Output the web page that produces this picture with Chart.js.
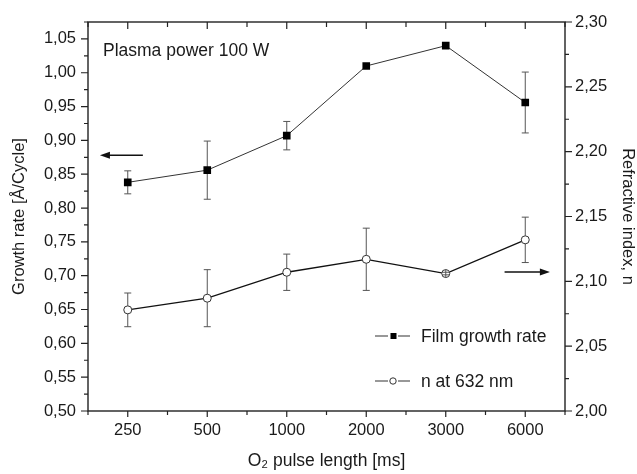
<!DOCTYPE html>
<html>
<head>
<meta charset="utf-8">
<script src="https://cdn.jsdelivr.net/npm/chart.js@4.4.1/dist/chart.umd.min.js"></script>
<style>
  html, body { margin: 0; padding: 0; background: #fff; }
  #wrap { width: 637px; height: 474px; }
</style>
</head>
<body>
<div id="wrap"><canvas id="chart" width="637" height="474"></canvas></div>
<script>
// ================= DATA =================
const pulseLengths = ["250", "500", "1000", "2000", "3000", "6000"];

const growthRate = [0.838, 0.856, 0.907, 1.010, 1.040, 0.956];
const growthErr  = [0.017, 0.043, 0.021, 0, 0, 0.045];

const refIndex = [2.078, 2.087, 2.107, 2.117, 2.106, 2.132];
const refErr   = [0.013, 0.022, 0.014, 0.024, 0.001, 0.0175];

const leftRange  = [0.5, 1.075];
const rightRange = [2.0, 2.30];

// arrows pointing at the axis each series belongs to (value on axis, x in category index units)
const arrowLeft  = { axis: "y",  value: 0.878,  from: 0.19, to: -0.35 };
const arrowRight = { axis: "y2", value: 2.1072, from: 4.74, to: 5.31 };

const noteText = "Plasma power 100 W";

// ================= HELPERS =================
const FONT = "'Liberation Sans', Arial, sans-serif";
const INK = "#1a1a1a";

function comma(v) { return v.toFixed(2).replace(".", ","); }
function isMajor(v) { return Math.round(v * 1000) % 50 === 0; }

// draws error bars; big ones go under the markers, tiny ones (hidden by the marker) on top
function drawErrors(chart, small) {
  const ctx = chart.ctx;
  ctx.save();
  ctx.strokeStyle = "#555";
  ctx.lineWidth = 1;
  chart.data.datasets.forEach((ds, i) => {
    const meta = chart.getDatasetMeta(i);
    const sc = chart.scales[ds.yAxisID];
    meta.data.forEach((pt, j) => {
      const e = ds.errors[j];
      if (!e) return;
      const yt = sc.getPixelForValue(ds.data[j] + e);
      const yb = sc.getPixelForValue(ds.data[j] - e);
      const isSmall = (yb - yt) / 2 < ds.pointRadius;
      if (isSmall !== small) return;
      const h = small ? ds.pointRadius : 0;
      ctx.beginPath();
      ctx.moveTo(pt.x, Math.min(yt, pt.y - h)); ctx.lineTo(pt.x, Math.max(yb, pt.y + h));
      ctx.moveTo(pt.x - 3.5, yt); ctx.lineTo(pt.x + 3.5, yt);
      ctx.moveTo(pt.x - 3.5, yb); ctx.lineTo(pt.x + 3.5, yb);
      ctx.stroke();
    });
  });
  ctx.restore();
}

// ================= PLUGINS =================
const errorBars = {
  id: "errorBars",
  beforeDatasetsDraw(chart) { drawErrors(chart, false); },
  afterDatasetsDraw(chart) { drawErrors(chart, true); }
};

const frameTicks = {
  id: "frameTicks",
  afterDraw(chart) {
    const { ctx, chartArea: a, scales } = chart;
    ctx.save();
    ctx.strokeStyle = "#222";
    ctx.lineWidth = 1.4;
    ctx.strokeRect(a.left, a.top, a.right - a.left, a.bottom - a.top);

    ctx.lineWidth = 1.2;
    ctx.beginPath();
    // left + right y ticks (outward)
    scales.y.ticks.forEach(t => {
      const p = scales.y.getPixelForValue(t.value);
      const len = isMajor(t.value) ? 7 : 4;
      ctx.moveTo(a.left, p); ctx.lineTo(a.left - len, p);
    });
    scales.y2.ticks.forEach(t => {
      const p = scales.y2.getPixelForValue(t.value);
      const len = isMajor(t.value) ? 7 : 4;
      ctx.moveTo(a.right, p); ctx.lineTo(a.right + len, p);
    });
    // bottom (outward) and top (inward) x ticks
    for (let i = 0; i <= pulseLengths.length; i++) {
      const pb = scales.x.getPixelForValue(i - 0.5);
      ctx.moveTo(pb, a.bottom); ctx.lineTo(pb, a.bottom + 4);
      ctx.moveTo(pb, a.top); ctx.lineTo(pb, a.top + 5);
      if (i < pulseLengths.length) {
        const pc = scales.x.getPixelForValue(i);
        ctx.moveTo(pc, a.bottom); ctx.lineTo(pc, a.bottom + 6);
        ctx.moveTo(pc, a.top); ctx.lineTo(pc, a.top + 7);
      }
    }
    ctx.stroke();
    ctx.restore();
  }
};

function drawArrow(ctx, chart, ar) {
  const x0 = chart.scales.x.getPixelForValue(ar.from);
  const x1 = chart.scales.x.getPixelForValue(ar.to);
  const y = chart.scales[ar.axis].getPixelForValue(ar.value);
  const dir = Math.sign(x1 - x0);
  ctx.beginPath();
  ctx.moveTo(x0, y); ctx.lineTo(x1 - dir * 8, y);
  ctx.stroke();
  ctx.beginPath();
  ctx.moveTo(x1, y);
  ctx.lineTo(x1 - dir * 10, y - 3.5);
  ctx.lineTo(x1 - dir * 10, y + 3.5);
  ctx.closePath();
  ctx.fill();
}

const annotations = {
  id: "annotations",
  afterDraw(chart) {
    const { ctx, chartArea: a } = chart;
    ctx.save();
    ctx.strokeStyle = "#111";
    ctx.fillStyle = "#111";
    ctx.lineWidth = 1.3;
    drawArrow(ctx, chart, arrowLeft);
    drawArrow(ctx, chart, arrowRight);

    ctx.fillStyle = INK;
    ctx.font = "17.5px " + FONT;
    ctx.textBaseline = "alphabetic";
    ctx.fillText(noteText, a.left + 15, a.top + 34);

    // legend, lower right
    const x0 = a.right - 190;
    const rows = [a.bottom - 75, a.bottom - 30];
    chart.data.datasets.forEach((ds, i) => {
      const y = rows[i];
      ctx.strokeStyle = "#333";
      ctx.lineWidth = 1.2;
      ctx.beginPath();
      ctx.moveTo(x0, y); ctx.lineTo(x0 + 13, y);
      ctx.moveTo(x0 + 23, y); ctx.lineTo(x0 + 35, y);
      ctx.stroke();
      if (ds.pointStyle === "rect") {
        ctx.fillStyle = "#000";
        ctx.fillRect(x0 + 15.5, y - 3, 6, 6);
      } else {
        ctx.fillStyle = "#fff";
        ctx.lineWidth = 1;
        ctx.beginPath();
        ctx.arc(x0 + 18, y, 3.2, 0, Math.PI * 2);
        ctx.fill(); ctx.stroke();
      }
      ctx.fillStyle = INK;
      ctx.textBaseline = "middle";
      ctx.fillText(ds.label, x0 + 46, y + 1);
    });
    ctx.restore();
  }
};

// ================= CHART =================
const tickFont = { family: FONT, size: 16.5 };

new Chart(document.getElementById("chart"), {
  type: "line",
  data: {
    labels: pulseLengths,
    datasets: [
      {
        label: "Film growth rate",
        data: growthRate,
        errors: growthErr,
        yAxisID: "y",
        borderColor: "#333",
        borderWidth: 1,
        pointStyle: "rect",
        pointRadius: 5.4,
        pointBackgroundColor: "#000",
        pointBorderColor: "#000",
        pointBorderWidth: 0,
        tension: 0
      },
      {
        label: "n at 632 nm",
        data: refIndex,
        errors: refErr,
        yAxisID: "y2",
        borderColor: "#111",
        borderWidth: 1.3,
        pointStyle: "circle",
        pointRadius: 4,
        pointBackgroundColor: "#fff",
        pointBorderColor: "#333",
        pointBorderWidth: 1,
        tension: 0
      }
    ]
  },
  options: {
    responsive: false,
    animation: false,
    layout: { padding: { top: 22, left: 0, right: 0, bottom: 0 } },
    plugins: { legend: { display: false }, tooltip: { enabled: false } },
    scales: {
      x: {
        offset: true,
        grid: { display: false, drawTicks: false },
        border: { display: false },
        ticks: { color: INK, font: tickFont, padding: 9.5, maxRotation: 0, autoSkip: false },
        title: {
          display: true, text: "O\u2082 pulse length [ms]", color: INK,
          font: { family: FONT, size: 17.5 }, padding: { top: 0, bottom: 2.5 }
        },
        afterFit(s) { s.height = 63; }
      },
      y: {
        position: "left",
        min: leftRange[0], max: leftRange[1],
        grid: { display: false, drawTicks: false },
        border: { display: false },
        ticks: {
          stepSize: 0.025, autoSkip: false, color: INK, font: tickFont, padding: 12,
          callback: v => isMajor(v) ? comma(v) : ""
        },
        title: {
          display: true, text: "Growth rate [Å/Cycle]", color: INK,
          font: { family: FONT, size: 16.5 }, padding: { top: 10, bottom: 0 }
        },
        afterFit(s) { s.width = 88; }
      },
      y2: {
        position: "right",
        min: rightRange[0], max: rightRange[1],
        grid: { display: false, drawTicks: false },
        border: { display: false },
        ticks: {
          stepSize: 0.025, autoSkip: false, color: INK, font: tickFont, padding: 10,
          callback: v => isMajor(v) ? comma(v) : ""
        },
        title: {
          display: true, text: "Refractive index, n", color: INK,
          font: { family: FONT, size: 16.5 }, padding: { top: 0, bottom: 0 }
        },
        afterFit(s) { s.width = 72; }
      }
    }
  },
  plugins: [errorBars, frameTicks, annotations]
});
</script>
</body>
</html>
